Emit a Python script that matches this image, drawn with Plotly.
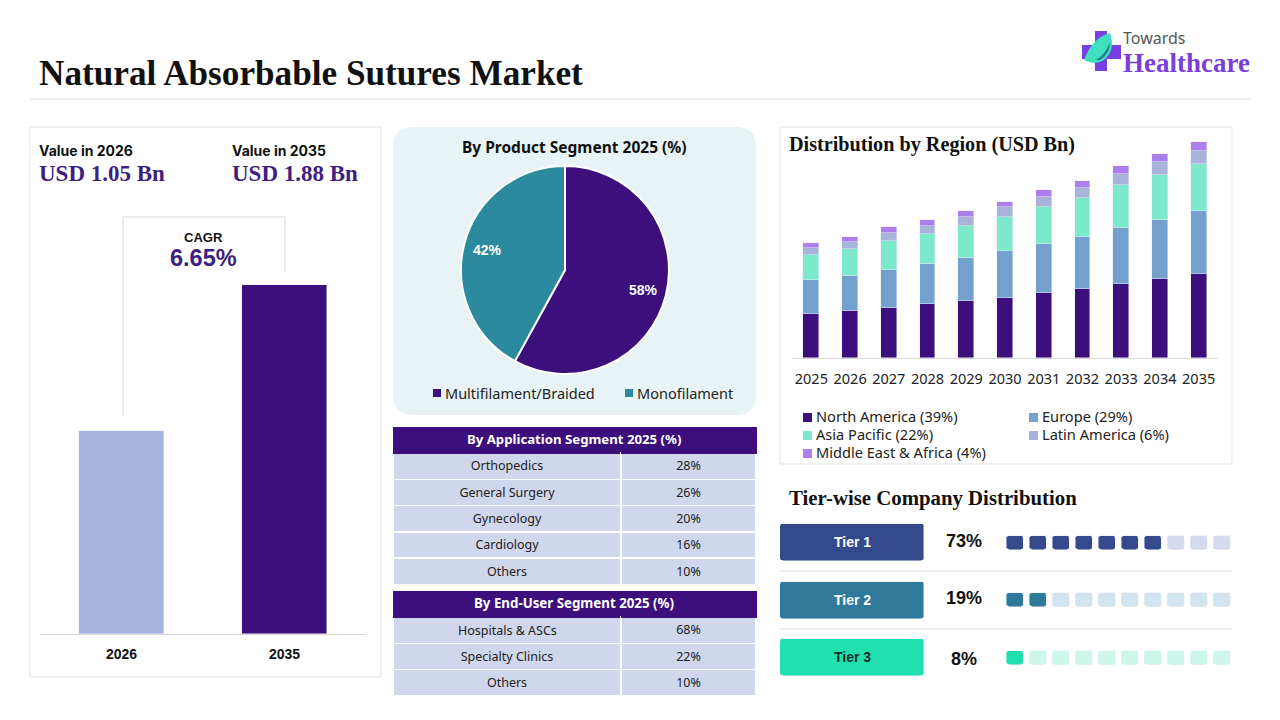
import plotly.graph_objects as go

W, H = 1280, 720

PURPLE = "#3c0f7d"
TEXT_PURPLE = "#3d1f80"
SANS = "Inter"
BODY = "Noto Sans"
ARIAL = "Liberation Sans"
SERIF = "Liberation Serif"

# left panel
value_years = ["2026", "2035"]
value_bars = [1.095, 1.88]
value_colors = ["#a6b3dc", PURPLE]

# product pie
product_labels = ["Multifilament/Braided", "Monofilament"]
product_shares = [58, 42]
product_colors = [PURPLE, "#2b8a9e"]

# tables
app_labels = ["Orthopedics", "General Surgery", "Gynecology", "Cardiology", "Others"]
app_shares = ["28%", "26%", "20%", "16%", "10%"]
user_labels = ["Hospitals & ASCs", "Specialty Clinics", "Others"]
user_shares = ["68%", "22%", "10%"]

# stacked regions, USD Bn
years = ["2025", "2026", "2027", "2028", "2029", "2030", "2031", "2032", "2033", "2034", "2035"]
region_names = ["North America", "Europe", "Asia Pacific", "Latin America", "Middle East & Africa"]
region_pct = [39, 29, 22, 6, 4]
region_colors = [PURPLE, "#74a0cd", "#7ce9cb", "#a8b3da", "#ab7fec"]
north_america = [0.380, 0.406, 0.432, 0.467, 0.493, 0.520, 0.563, 0.598, 0.642, 0.685, 0.729]
europe = [0.296, 0.305, 0.331, 0.348, 0.374, 0.409, 0.427, 0.453, 0.488, 0.514, 0.549]
asia_pacific = [0.220, 0.235, 0.255, 0.261, 0.279, 0.296, 0.322, 0.340, 0.374, 0.392, 0.409]
latin_america = [0.058, 0.061, 0.067, 0.070, 0.078, 0.087, 0.087, 0.087, 0.096, 0.113, 0.113]
mea = [0.044, 0.044, 0.052, 0.052, 0.052, 0.044, 0.061, 0.061, 0.070, 0.070, 0.078]

# tiers
tier_labels = ["Tier 1", "Tier 2", "Tier 3"]
tier_pct = ["73%", "19%", "8%"]
tier_filled = [7, 2, 1]
tier_colors = ["#354a8c", "#2f7a9a", "#20e0b0"]
tier_light = ["#d5daee", "#d2e4ef", "#cdf7ea"]
tier_text = ["#ffffff", "#ffffff", "#0d2f2c"]
tier_cells = list(range(10))


def xdom(left, right):
    return [left / W, right / W]


def ydom(top, bottom):
    return [1 - bottom / H, 1 - top / H]


def label(x, y, text, size, color="#111111", family=SANS, anchor="left"):
    # annotations sit about 2px right of the anchor
    if anchor == "left":
        x -= 2
    return dict(
        x=x / W, y=1 - y / H, xref="paper", yref="paper", text=text, showarrow=False,
        xanchor=anchor, yanchor="middle", font=dict(size=size, color=color, family=family),
    )


def rect(x0, y0, x1, y1, fill="rgba(0,0,0,0)", line=None, layer="below"):
    return dict(
        type="rect", xref="paper", yref="paper", x0=x0 / W, x1=x1 / W, y0=1 - y1 / H, y1=1 - y0 / H,
        fillcolor=fill, line=dict(color=line or "rgba(0,0,0,0)", width=1), layer=layer,
    )


def seg(x0, y0, x1, y1, color="#dcdcdc"):
    return dict(
        type="line", xref="paper", yref="paper", x0=x0 / W, x1=x1 / W, y0=1 - y0 / H, y1=1 - y1 / H,
        line=dict(color=color, width=1), layer="below",
    )


def pth(points):
    out = []
    for p in points:
        if isinstance(p, str):
            out.append(p)
        else:
            out.append(f"{p[0] / W:.5f},{1 - p[1] / H:.5f}")
    return " ".join(out)


def shape_path(points, fill, layer="below"):
    return dict(type="path", xref="paper", yref="paper", path=pth(points), fillcolor=fill,
                line=dict(width=0), layer=layer)


fig = go.Figure()

# value bars
fig.add_trace(go.Bar(
    x=value_years, y=value_bars, marker_color=value_colors, width=0.525,
    xaxis="x", yaxis="y", showlegend=False,
))

# stacked region bars
for name, vals, color in zip(region_names, [north_america, europe, asia_pacific, latin_america, mea], region_colors):
    fig.add_trace(go.Bar(
        x=years, y=vals, name=name, marker_color=color, width=0.41,
        xaxis="x2", yaxis="y2", showlegend=False,
    ))

# bars with an explicit base get all four corners rounded
rows = list(range(len(tier_labels)))
fig.add_trace(go.Bar(
    x=[1] * 3, y=rows, base=[0] * 3, orientation="h", width=0.64,
    marker=dict(color=tier_colors, cornerradius=3),
    xaxis="x3", yaxis="y3", showlegend=False,
))

cell_h = 0.235
for row, filled in enumerate(tier_filled):
    colors = [tier_colors[row] if i < filled else tier_light[row] for i in tier_cells]
    fig.add_trace(go.Bar(
        x=tier_cells, y=[cell_h] * len(tier_cells), base=[row - cell_h / 2] * len(tier_cells),
        width=0.78, marker=dict(color=colors, cornerradius=3),
        xaxis="x4", yaxis="y3", showlegend=False,
    ))

# product pie
fig.add_trace(go.Pie(
    labels=product_labels, values=product_shares, sort=False, direction="clockwise", rotation=0,
    marker=dict(colors=product_colors, line=dict(color="#ffffff", width=2)),
    textinfo="none",
    domain=dict(x=xdom(461, 669), y=ydom(166, 374)), showlegend=False,
))

# tables, header row left empty and titled with an annotation
# a cell holding "&" makes the table grow that row, so it is annotated on top instead
for labels, shares, top in [(app_labels, app_shares, 427), (user_labels, user_shares, 591)]:
    fig.add_trace(go.Table(
        columnwidth=[228, 135],
        domain=dict(x=xdom(393, 756), y=ydom(top, top + 26 + 26.3 * len(labels) + 4)),
        header=dict(values=["", ""], height=26, fill_color=PURPLE, line_color=PURPLE),
        cells=dict(
            values=[["" if "&" in s else s for s in labels], shares], height=26.3, align="center",
            fill_color="#d0d6eb", line=dict(color="#ffffff", width=1.5),
            font=dict(size=12.5, color="#222222", family=BODY),
        ),
    ))

annotations = [
    label(39, 74, "<b>Natural Absorbable Sutures Market</b>", 35.2, family=SERIF),
    # logo text
    label(1123, 38, "Towards", 16, color="#555555", family=BODY),
    label(1123, 63, "<b>Healthcare</b>", 27, color="#7b3fd9", family=SERIF),
    # left panel
    label(39, 150, "<b>Value in 2026</b>", 14),
    label(232, 150, "<b>Value in 2035</b>", 14),
    label(39, 173, "<b>USD 1.05 Bn</b>", 23, color=TEXT_PURPLE, family=SERIF),
    label(232, 173, "<b>USD 1.88 Bn</b>", 23, color=TEXT_PURPLE, family=SERIF),
    label(203, 238, "<b>CAGR</b>", 13, family=ARIAL, anchor="center"),
    label(203, 258, "<b>6.65%</b>", 23.5, color=TEXT_PURPLE, family=ARIAL, anchor="center"),
    # middle
    label(574, 147, "<b>By Product Segment 2025 (%)</b>", 15.5, family=BODY, anchor="center"),
    label(643, 290, f"<b>{product_shares[0]}%</b>", 14, color="#ffffff", family=ARIAL, anchor="center"),
    label(487, 250, f"<b>{product_shares[1]}%</b>", 14, color="#ffffff", family=ARIAL, anchor="center"),
    label(445, 393, product_labels[0], 14.5, color="#222222", family=BODY),
    label(637, 393, product_labels[1], 14.5, color="#222222", family=BODY),
    label(574, 439, "<b>By Application Segment 2025 (%)</b>", 13.2, color="#ffffff", family=BODY, anchor="center"),
    label(574, 603, "<b>By End-User Segment 2025 (%)</b>", 13.3, color="#ffffff", family=BODY, anchor="center"),
    label(507, 630, user_labels[0], 12.5, color="#222222", family=BODY, anchor="center"),
    # right
    label(789, 145, "<b>Distribution by Region (USD Bn)</b>", 20.2, family=SERIF),
    label(789, 498, "<b>Tier-wise Company Distribution</b>", 20.8, family=SERIF),
]

tier_y = [541, 598, 659]
pill_y = [542, 599.5, 656.5]
for name, pct, color, ty, py in zip(tier_labels, tier_pct, tier_text, tier_y, pill_y):
    annotations.append(label(852, py, f"<b>{name}</b>", 14, color=color, family=ARIAL, anchor="center"))
    annotations.append(label(964, ty, f"<b>{pct}</b>", 18, family=ARIAL, anchor="center"))

shapes = [
    seg(30, 99, 1251, 99),
    rect(30, 127, 381, 677, line="#e3e3e3"),
    rect(780, 127, 1232, 464, line="#e3e3e3"),
    # pie card, rounded
    shape_path(["M", (413, 127), "L", (736, 127), "Q", (756, 127), (756, 147), "L", (756, 395),
                "Q", (756, 415), (736, 415), "L", (413, 415), "Q", (393, 415), (393, 395),
                "L", (393, 147), "Q", (393, 127), (413, 127), "Z"], "#e8f3f6"),
    # CAGR bracket
    seg(123, 416, 123, 217, "#d5d5d5"),
    seg(123, 217, 285, 217, "#d5d5d5"),
    seg(285, 217, 285, 272, "#d5d5d5"),
    # tier separators
    seg(780, 571, 1232, 571),
    seg(780, 629, 1232, 629),
    # pie legend swatches
    rect(433, 389, 441, 397, fill=product_colors[0]),
    rect(625, 389, 633, 397, fill=product_colors[1]),
    # logo plus and leaf
    shape_path(["M", (1095, 31), "L", (1107, 31), "L", (1107, 45), "L", (1121, 45), "L", (1121, 59),
                "L", (1107, 59), "L", (1107, 71), "L", (1095, 71), "L", (1095, 59), "L", (1082, 59),
                "L", (1082, 45), "L", (1095, 45), "Z"], "#7a3fe0"),
    shape_path(["M", (1084, 60), "Q", (1092, 38), (1110, 33), "Q", (1116, 50), (1104, 60),
                "Q", (1095, 66), (1084, 60), "Z"], "#3fe0c0"),
    shape_path(["M", (1096, 60), "Q", (1106, 54), (1110, 42), "Q", (1110, 54), (1100, 60), "Z"], "#1f7f8f"),
]

# region legend
legend_pos = [(803, 417.5), (1029, 417.5), (803, 435.5), (1029, 435.5), (803, 453.5)]
for (lx, ly), name, pct, color in zip(legend_pos, region_names, region_pct, region_colors):
    shapes.append(rect(lx, ly - 4.5, lx + 9, ly + 4.5, fill=color))
    annotations.append(label(lx + 13, ly - 1.5, f"{name} ({pct}%)", 14.6, color="#222222", family=BODY))

hidden = dict(visible=False, fixedrange=True)

fig.update_layout(
    width=W, height=H, margin=dict(l=0, r=0, t=0, b=0),
    paper_bgcolor="#ffffff", plot_bgcolor="rgba(0,0,0,0)",
    barmode="stack", bargap=0, showlegend=False,
    annotations=annotations, shapes=shapes,
    xaxis=dict(
        domain=xdom(40, 366), type="category", showline=True, linecolor="#d9d9d9", showgrid=False,
        anchor="y", ticks="outside", ticklen=7, tickcolor="rgba(0,0,0,0)",
        tickfont=dict(size=14, color="#111111", family=ARIAL),
        tickprefix="<b>", ticksuffix="</b>",
    ),
    yaxis=dict(domain=ydom(270, 634), range=[0, 364 / 185.6], anchor="x", **hidden),
    xaxis2=dict(
        domain=xdom(792, 1218), type="category", showline=True, linecolor="#d9d9d9", showgrid=False,
        anchor="y2", ticks="outside", ticklen=8, tickcolor="rgba(0,0,0,0)",
        tickfont=dict(size=14.5, color="#222222", family=BODY),
    ),
    yaxis2=dict(domain=ydom(140, 358), range=[0, 218 / 114.83], anchor="x2", **hidden),
    xaxis3=dict(domain=xdom(780, 924), range=[0, 1], anchor="y3", **hidden),
    yaxis3=dict(domain=ydom(513.75, 686.25), range=[2.5, -0.5], anchor="x3", **hidden),
    xaxis4=dict(domain=xdom(1003.5, 1233.5), range=[-0.5, 9.5], anchor="y3", **hidden),
)

fig.write_html("out.html", config={"displayModeBar": False}, post_script="document.body.style.margin='0';")
